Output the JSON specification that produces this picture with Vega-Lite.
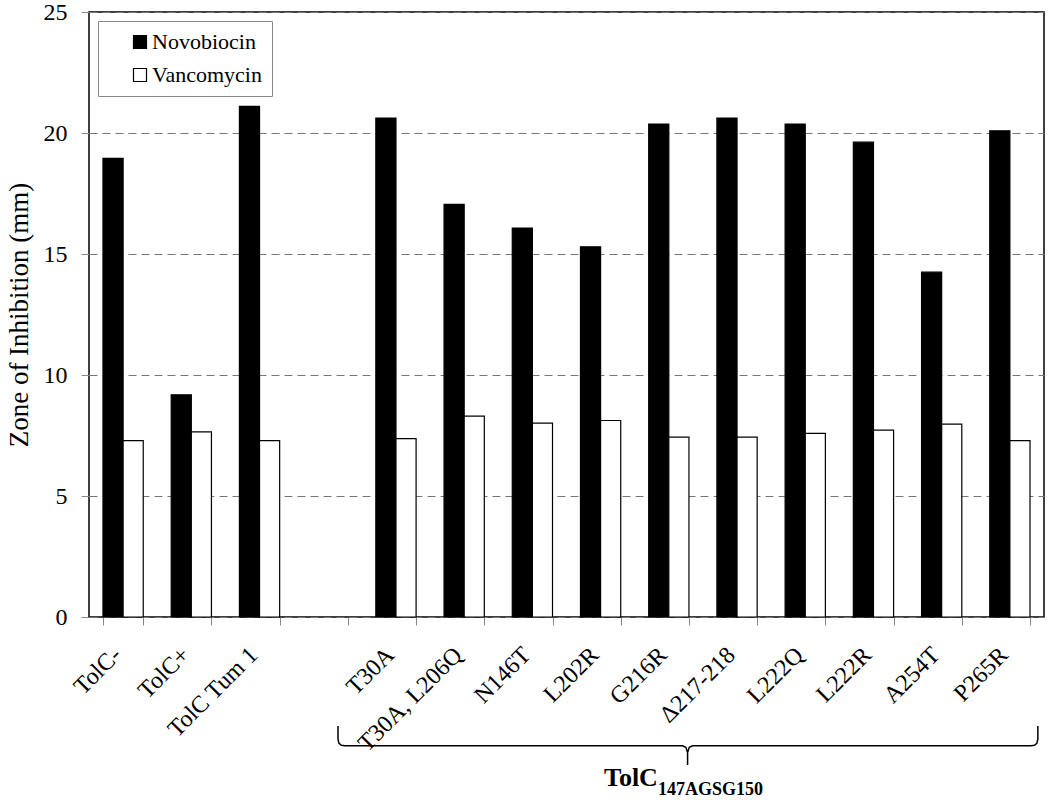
{
  "$schema": "https://vega.github.io/schema/vega-lite/v6.json",
  "autosize": {"type": "none"},
  "padding": {"left": 89, "top": 12, "right": 6, "bottom": 189},
  "width": 955,
  "height": 605,
  "background": "white",
  "config": {
    "font": "Liberation Serif",
    "view": {"stroke": "black", "strokeWidth": 1.5},
    "axis": {"labelFont": "Liberation Serif", "titleFont": "Liberation Serif", "labelColor": "black", "titleColor": "black"},
    "legend": {"labelFont": "Liberation Serif"}
  },
  "datasets": {
    "bars": [
      {"strain": "TolC-", "antibiotic": "Novobiocin", "zone": 18.95},
      {"strain": "TolC-", "antibiotic": "Vancomycin", "zone": 7.29},
      {"strain": "TolC+", "antibiotic": "Novobiocin", "zone": 9.18},
      {"strain": "TolC+", "antibiotic": "Vancomycin", "zone": 7.65},
      {"strain": "TolC Tum 1", "antibiotic": "Novobiocin", "zone": 21.1},
      {"strain": "TolC Tum 1", "antibiotic": "Vancomycin", "zone": 7.29},
      {"strain": "T30A", "antibiotic": "Novobiocin", "zone": 20.62},
      {"strain": "T30A", "antibiotic": "Vancomycin", "zone": 7.37},
      {"strain": "T30A, L206Q", "antibiotic": "Novobiocin", "zone": 17.05},
      {"strain": "T30A, L206Q", "antibiotic": "Vancomycin", "zone": 8.3},
      {"strain": "N146T", "antibiotic": "Novobiocin", "zone": 16.07},
      {"strain": "N146T", "antibiotic": "Vancomycin", "zone": 8.01},
      {"strain": "L202R", "antibiotic": "Novobiocin", "zone": 15.3},
      {"strain": "L202R", "antibiotic": "Vancomycin", "zone": 8.12},
      {"strain": "G216R", "antibiotic": "Novobiocin", "zone": 20.37},
      {"strain": "G216R", "antibiotic": "Vancomycin", "zone": 7.43},
      {"strain": "Δ217-218", "antibiotic": "Novobiocin", "zone": 20.62},
      {"strain": "Δ217-218", "antibiotic": "Vancomycin", "zone": 7.43},
      {"strain": "L222Q", "antibiotic": "Novobiocin", "zone": 20.37},
      {"strain": "L222Q", "antibiotic": "Vancomycin", "zone": 7.59},
      {"strain": "L222R", "antibiotic": "Novobiocin", "zone": 19.62},
      {"strain": "L222R", "antibiotic": "Vancomycin", "zone": 7.72},
      {"strain": "A254T", "antibiotic": "Novobiocin", "zone": 14.25},
      {"strain": "A254T", "antibiotic": "Vancomycin", "zone": 7.97},
      {"strain": "P265R", "antibiotic": "Novobiocin", "zone": 20.09},
      {"strain": "P265R", "antibiotic": "Vancomycin", "zone": 7.29}
    ],
    "brace": [
      {"bx": 3.65, "by": -4.5, "k": 1},
      {"bx": 3.65, "by": -5.05, "k": 2},
      {"bx": 3.665, "by": -5.22, "k": 3},
      {"bx": 3.7, "by": -5.3, "k": 4},
      {"bx": 3.75, "by": -5.32, "k": 5},
      {"bx": 8.7, "by": -5.32, "k": 6},
      {"bx": 8.75, "by": -5.38, "k": 7},
      {"bx": 8.775, "by": -5.6, "k": 8},
      {"bx": 8.775, "by": -6.12, "k": 9},
      {"bx": 8.775, "by": -5.6, "k": 10},
      {"bx": 8.8, "by": -5.38, "k": 11},
      {"bx": 8.85, "by": -5.32, "k": 12},
      {"bx": 13.81, "by": -5.32, "k": 13},
      {"bx": 13.86, "by": -5.3, "k": 14},
      {"bx": 13.895, "by": -5.22, "k": 15},
      {"bx": 13.91, "by": -5.05, "k": 16},
      {"bx": 13.91, "by": -4.5, "k": 17}
    ],
    "mainLabel": [{"lx": 8.34, "ly": -6.99, "t": "TolC"}],
    "subLabel": [{"lx": 8.34, "ly": -7.36, "t": "147AGSG150"}]
  },
  "layer": [
    {
      "data": {"name": "bars"},
      "mark": {"type": "bar", "stroke": "black", "strokeWidth": 1.2},
      "encoding": {
        "x": {
          "field": "strain", "type": "nominal",
          "scale": {"domain": ["TolC-", "TolC+", "TolC Tum 1", " ", "T30A", "T30A, L206Q", "N146T", "L202R", "G216R", "Δ217-218", "L222Q", "L222R", "A254T", "P265R"], "paddingInner": 0.41, "paddingOuter": 0.205},
          "axis": {"title": null, "labelAngle": -45, "labelAlign": "right", "labelBaseline": "middle", "labelFontSize": 24, "labelPadding": 26, "labelOffset": -6, "tickBand": "extent", "tickColor": "#888", "tickSize": 8, "domain": false, "labelLimit": 300}
        },
        "xOffset": {"field": "antibiotic", "type": "nominal", "scale": {"paddingInner": 0}},
        "y": {
          "field": "zone", "type": "quantitative",
          "scale": {"domain": [0, 25], "nice": false},
          "axis": {"title": "Zone of Inhibition (mm)", "titleFontSize": 27, "titleFontWeight": "normal", "titlePadding": 10, "labelFontSize": 24, "labelPadding": 14, "tickColor": "#888", "tickSize": 8, "domain": false, "values": [0, 5, 10, 15, 20, 25], "grid": true, "gridDash": [8, 5], "gridColor": "#777", "gridWidth": 1}
        },
        "color": {
          "field": "antibiotic", "type": "nominal",
          "scale": {"domain": ["Novobiocin", "Vancomycin"], "range": ["black", "white"]},
          "legend": {"title": null, "orient": "none", "legendX": 9, "legendY": 9, "symbolType": "square", "symbolSize": 169, "symbolStrokeColor": "black", "symbolStrokeWidth": 1.2, "labelFontSize": 22, "labelFont": "Liberation Serif", "labelColor": "black", "labelOffset": 1, "rowPadding": 11, "padding": 10, "symbolOffset": 21, "strokeColor": "#888", "fillColor": "white", "labelExpr": "datum.label + '\u00a0\u00a0\u00a0\u00a0\u00a0\u00a0'"}
        }
      }
    },
    {
      "data": {"name": "brace"},
      "mark": {"type": "line", "color": "black", "strokeWidth": 1.5},
      "encoding": {
        "x": {"field": "bx", "type": "quantitative", "scale": {"domain": [0, 14], "nice": false, "zero": false}, "axis": null},
        "y": {"field": "by", "type": "quantitative", "scale": {"domain": [0, 25], "nice": false}, "axis": null},
        "order": {"field": "k", "type": "quantitative"}
      }
    },
    {
      "data": {"name": "mainLabel"},
      "mark": {"type": "text", "align": "right", "baseline": "alphabetic", "fontSize": 26, "fontWeight": "bold", "font": "Liberation Serif", "color": "black"},
      "encoding": {
        "x": {"field": "lx", "type": "quantitative", "scale": {"domain": [0, 14], "nice": false, "zero": false}, "axis": null},
        "y": {"field": "ly", "type": "quantitative", "scale": {"domain": [0, 25], "nice": false}, "axis": null},
        "text": {"field": "t"}
      }
    },
    {
      "data": {"name": "subLabel"},
      "mark": {"type": "text", "align": "left", "baseline": "alphabetic", "fontSize": 18, "fontWeight": "bold", "font": "Liberation Serif", "color": "black"},
      "encoding": {
        "x": {"field": "lx", "type": "quantitative", "scale": {"domain": [0, 14], "nice": false, "zero": false}, "axis": null},
        "y": {"field": "ly", "type": "quantitative", "scale": {"domain": [0, 25], "nice": false}, "axis": null},
        "text": {"field": "t"}
      }
    }
  ],
  "resolve": {"scale": {"x": "independent", "y": "independent"}}
}
